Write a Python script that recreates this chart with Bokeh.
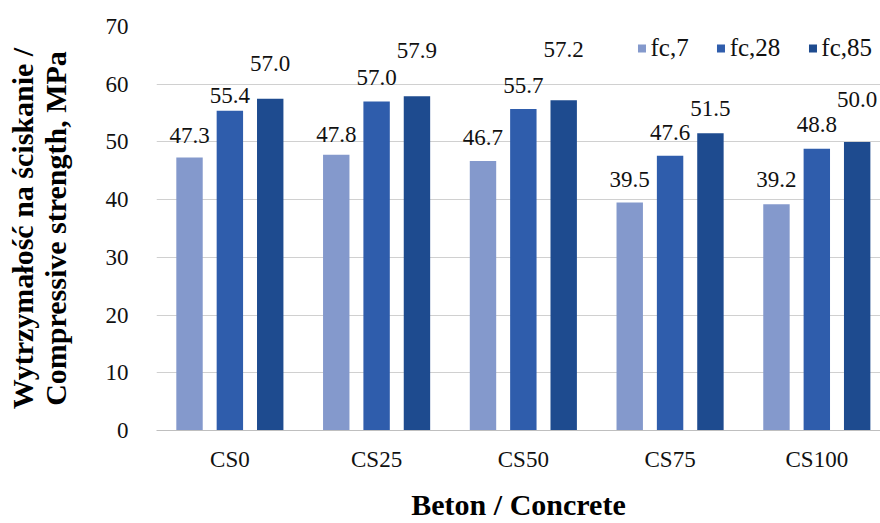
from bokeh.plotting import figure
from bokeh.models import (ColumnDataSource, Range1d, FixedTicker, LabelSet,
                          Legend, LegendItem)
from bokeh.embed import file_html
from bokeh.resources import INLINE

categories = ["CS0", "CS25", "CS50", "CS75", "CS100"]
series = ["fc,7", "fc,28", "fc,85"]
fc7 = [47.3, 47.8, 46.7, 39.5, 39.2]
fc28 = [55.4, 57.0, 55.7, 47.6, 48.8]
fc85 = [57.5, 57.9, 57.2, 51.5, 50.0]
fc7_labels = ["47.3", "47.8", "46.7", "39.5", "39.2"]
fc28_labels = ["55.4", "57.0", "55.7", "47.6", "48.8"]
fc85_labels = ["57.0", "57.9", "57.2", "51.5", "50.0"]
y_ticks = [0, 10, 20, 30, 40, 50, 60, 70]

# style / placement (not data)
colors = ["#8499CC", "#2F5DAC", "#1E4B8F"]
offsets = [-0.275, 0.0, 0.275]
label_gaps = [[15, 13, 16, 16, 17], [8, 17, 16, 16, 17], [28, 38, 43, 17, 35]]

FONT = "Liberation Serif"

p = figure(width=880, height=523, output_backend="svg", toolbar_location=None,
           x_range=Range1d(0, 4.934), y_range=Range1d(0, 70),
           min_border_left=156, min_border_right=0, min_border_top=26,
           min_border_bottom=91)
p.outline_line_color = None
p.background_fill_color = "white"
p.border_fill_color = "white"

all_vals = [fc7, fc28, fc85]
all_labels = [fc7_labels, fc28_labels, fc85_labels]
renderers = []
for k in range(3):
    xs = [i + 0.5 + offsets[k] for i in range(len(categories))]
    src = ColumnDataSource(dict(x=xs, top=all_vals[k], text=all_labels[k],
                                gap=label_gaps[k]))
    r = p.vbar(x="x", top="top", width=0.18, bottom=0, source=src,
               fill_color=colors[k], line_color=None)
    renderers.append(r)
    ls = LabelSet(x="x", y="top", text="text", y_offset="gap", source=src,
                  text_align="center", text_baseline="alphabetic",
                  text_font=FONT, text_font_size="23px", text_color="#111111")
    p.add_layout(ls)

# axes
p.xaxis.ticker = FixedTicker(ticks=[i + 0.5 for i in range(len(categories))])
p.xaxis.major_label_overrides = {i + 0.5: c for i, c in enumerate(categories)}
p.yaxis.ticker = FixedTicker(ticks=y_ticks)
for ax in (p.xaxis, p.yaxis):
    ax.major_tick_line_color = None
    ax.minor_tick_line_color = None
    ax.major_label_text_font = FONT
    ax.major_label_text_font_size = "23px"
    ax.major_label_text_color = "#111111"
    ax.axis_label_text_font = FONT
    ax.axis_label_text_font_style = "bold"
    ax.axis_label_text_font_size = "30px"
    ax.axis_label_text_line_height = 1.0
    ax.axis_label_text_color = "#000000"
p.yaxis.axis_line_color = None
p.xaxis.axis_line_color = "#BFBFBF"
p.xaxis.axis_line_width = 1
p.xaxis.major_label_standoff = 10
p.yaxis.major_label_standoff = 22
p.xaxis.axis_label = "Beton / Concrete"
p.xaxis.axis_label_standoff = 13
p.yaxis.axis_label = "Wytrzymałość na ściskanie /\nCompressive strength, MPa"
p.yaxis.axis_label_standoff = 31

p.xgrid.grid_line_color = None
p.ygrid.grid_line_color = "#D0D0D0"
p.ygrid.grid_line_width = 1

legend = Legend(items=[LegendItem(label=s, renderers=[renderers[k]])
                       for k, s in enumerate(series)],
                orientation="horizontal", location="top_right")
legend.label_text_font = FONT
legend.label_text_font_size = "25px"
legend.label_text_color = "#111111"
legend.glyph_width = 10
legend.glyph_height = 10
legend.label_standoff = 4
legend.spacing = 27
legend.padding = 0
legend.margin = 8
legend.border_line_color = None
legend.background_fill_alpha = 0
p.add_layout(legend)

open("out.html", "w").write(file_html(p, INLINE))
